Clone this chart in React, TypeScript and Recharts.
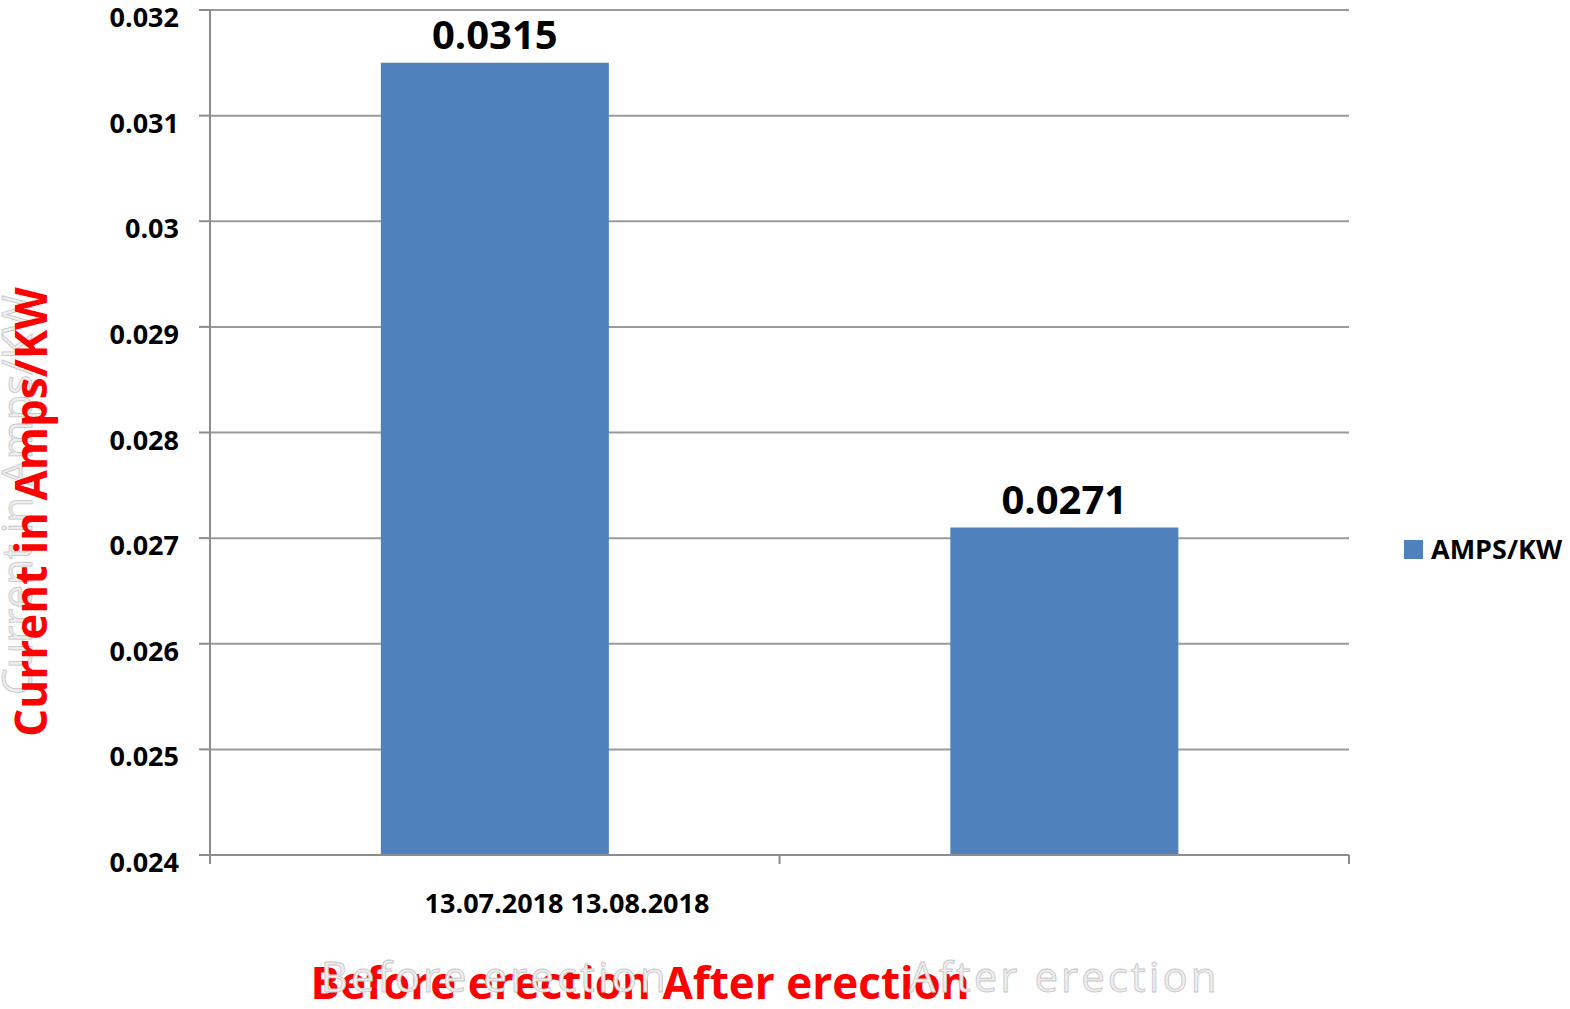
import { Bar, BarChart, CartesianGrid, Label, LabelList, Legend, XAxis, YAxis } from "recharts";

const categories = ["Before erection", "After erection"];
const ampsPerKw = [0.0315, 0.0271];
const yTicks = [0.024, 0.025, 0.026, 0.027, 0.028, 0.029, 0.03, 0.031, 0.032];
const seriesName = "AMPS/KW";
const yTitle = "Current in Amps/KW";
const xTitle = "Before erection After erection";
const dateRange = "13.07.2018 13.08.2018";

const data = categories.map((name, i) => ({ name, value: ampsPerKw[i] }));

const FONT = "'Open Sans', sans-serif";
const AXIS = "#8c8c8c";
const BLUE = "#4f81bd";
const RED = "#ff0000";

// y tick labels sit a little below their gridline in the original
const YTick = ({ x, y, payload }: any) => (
  <text x={x} y={y + 17} textAnchor="end" fontFamily={FONT} fontWeight={700} fontSize={27} fill="#000">
    {String(payload.value)}
  </text>
);

// ticks go on the category boundaries, faded category names underneath
const XTick = ({ x, y, payload, index, visibleTicksCount }: any) => {
  const half = payload.offset || 284;
  const last = index === visibleTicksCount - 1;
  return (
    <g>
      <line x1={x - half} x2={x - half} y1={y} y2={y + 9} stroke={AXIS} strokeWidth={2} />
      {last && <line x1={x + half} x2={x + half} y1={y} y2={y + 9} stroke={AXIS} strokeWidth={2} />}
      <text
        x={x}
        y={y + 137}
        textAnchor="middle"
        fontFamily={FONT}
        fontSize={42}
        letterSpacing={3}
        fill="#eeeeee"
        stroke="#c6c6c6"
        strokeWidth={0.8}
      >
        {payload.value}
      </text>
    </g>
  );
};

const LegendContent = ({ payload }: any) => (
  <div style={{ paddingLeft: 55 }}>
    {(payload || []).map((entry: any) => (
      <div key={entry.value} style={{ display: "flex", alignItems: "center" }}>
        <span style={{ width: 19, height: 19, background: entry.color, marginRight: 8, display: "inline-block" }} />
        <span style={{ fontFamily: FONT, fontWeight: 700, fontSize: 27, color: "#000", lineHeight: "30px" }}>
          {entry.value}
        </span>
      </div>
    ))}
  </div>
);

const App = () => {
  return (
    <div style={{ position: "absolute", left: 0, top: 0, background: "#fff" }}>
      <BarChart width={1570} height={1009} data={data} margin={{ top: 10, right: 0, left: 0, bottom: 0 }} barCategoryGap="30%">
        <CartesianGrid vertical={false} stroke="#9a9a9a" strokeWidth={2} />
        <XAxis
          dataKey="name"
          height={154}
          stroke={AXIS}
          strokeWidth={2}
          tickLine={false}
          tickSize={0}
          tickMargin={0}
          tick={<XTick />}
          interval={0}
        >
          <Label
            content={() => (
              <text x={567} y={913} textAnchor="middle" fontFamily={FONT} fontWeight={700} fontSize={27} fill="#000">
                {dateRange}
              </text>
            )}
          />
          <Label
            content={() => (
              <text x={640} y={999} textAnchor="middle" fontFamily={FONT} fontWeight={700} fontSize={44} fill={RED}>
                {xTitle}
              </text>
            )}
          />
        </XAxis>
        <YAxis
          width={210}
          domain={[0.024, 0.032]}
          ticks={yTicks}
          allowDataOverflow
          stroke={AXIS}
          strokeWidth={2}
          tickSize={11}
          tickMargin={20}
          tick={<YTick />}
          interval={0}
        >
          <Label
            content={() => (
              <text
                x={32}
                y={495}
                transform="rotate(-90, 32, 495)"
                textAnchor="middle"
                fontFamily={FONT}
                fontSize={42}
                fill="#eeeeee"
                stroke="#c6c6c6"
                strokeWidth={0.8}
              >
                {yTitle}
              </text>
            )}
          />
          <Label
            content={() => (
              <text
                x={47}
                y={512}
                transform="rotate(-90, 47, 512)"
                textAnchor="middle"
                fontFamily={FONT}
                fontWeight={700}
                fontSize={44}
                fill={RED}
              >
                {yTitle}
              </text>
            )}
          />
        </YAxis>
        <Legend
          layout="vertical"
          align="right"
          verticalAlign="middle"
          content={<LegendContent />}
          wrapperStyle={{ top: 534, right: 0, width: 221 }}
        />
        <Bar dataKey="value" name={seriesName} fill={BLUE} isAnimationActive={false}>
          <LabelList dataKey="value" position="top" offset={14} fill="#000" fontSize={40} fontWeight={700} fontFamily={FONT} />
        </Bar>
      </BarChart>
    </div>
  );
};

export default App;
